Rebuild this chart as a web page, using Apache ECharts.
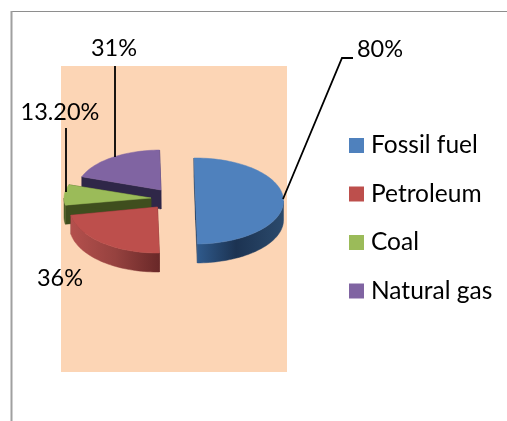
<!DOCTYPE html>
<html><head><meta charset="utf-8">
<style>html,body{margin:0;padding:0;background:#fff}#c{width:507px;height:421px}</style>
<script src="https://cdn.jsdelivr.net/npm/echarts@6/dist/echarts.min.js"></script>
</head><body><div id="c"></div>
<script>
const categories = ['Fossil fuel', 'Petroleum', 'Coal', 'Natural gas'];
const values = [80, 36, 13.2, 31];
const valueLabels = ['80%', '36%', '13.20%', '31%'];
const colors = ['#4f81bd', '#bd4f4c', '#9bbb59', '#8064a2'];

const FONT = '23.5px Lato, Carlito, sans-serif';
const DEPTH = 19, START = -1;
const geometry = [
  {cx:195.5, cy:201, rx:88, ry:43, face:'#1f3a5c',
   wall:['#2f5a8c','#1c3352','#2b4a6c'], label:[380,49], leader:[[283,199],[342,58],[353,58]]},
  {cx:157.5, cy:207, rx:88, ry:46, face:'#6b2a2a',
   wall:['#b4504d','#96423f','#692828'], label:[60,278], leader:null},
  {cx:151, cy:198, rx:87, ry:40, face:'#3f4e1e',
   wall:['#4a5c24','#4a5c24','#4a5c24'], label:[60,112], leader:[[66,128],[66,192]]},
  {cx:161, cy:190, rx:84, ry:40, face:'#2f2748',
   wall:['#2f2748','#2f2748','#2f2748'], label:[114,48], leader:[[115,66],[115,157]]}
];
const drawOrder = [3, 2, 0, 1];
const total = values.reduce((a, b) => a + b, 0);

function angles(i) {
  let a = START;
  for (let k = 0; k < i; k++) a += values[k] / total * 360;
  return [a, a + values[i] / total * 360];
}
function pt(g, deg, dy) {
  const t = deg * Math.PI / 180;
  return [g.cx + g.rx * Math.sin(t), g.cy - g.ry * Math.cos(t) + (dy || 0)];
}
function arc(g, a0, a1, dy) {
  const n = Math.max(2, Math.ceil(Math.abs(a1 - a0) / 2)), out = [];
  for (let k = 0; k <= n; k++) out.push(pt(g, a0 + (a1 - a0) * k / n, dy));
  return out;
}
function poly(points, fill, extra) {
  return Object.assign({type:'polygon', shape:{points}, style:{fill, stroke:fill, lineWidth:0.5}}, extra || {});
}
function makeRender(i) {
  return function () {
    const g = geometry[i], [a0, a1] = angles(i), kids = [];
    const c = [g.cx, g.cy], cd = [g.cx, g.cy + DEPTH];
    [a0, a1].forEach(a => {
      const p = pt(g, a), pd = pt(g, a, DEPTH);
      kids.push(poly([c, p, pd, cd], g.face));
    });
    const w0 = Math.max(a0, 90), w1 = Math.min(a1, 270);
    if (w1 > w0) {
      const top = arc(g, w0, w1, 0), bot = arc(g, w1, w0, DEPTH);
      kids.push(poly(top.concat(bot), new echarts.graphic.LinearGradient(0, 0, 1, 0,
        i === 0
          ? [{offset:0,color:g.wall[0]},{offset:.45,color:g.wall[1]},{offset:1,color:g.wall[2]}]
          : [{offset:0,color:g.wall[0]},{offset:.5,color:g.wall[1]},{offset:1,color:g.wall[2]}])));
    }
    kids.push(poly([c].concat(arc(g, a0, a1, 0)), colors[i]));
    if (g.leader) kids.push({type:'polyline', shape:{points:g.leader}, style:{stroke:'#000', lineWidth:1.8, fill:null}, z2:20});
    kids.push({type:'text', z2:30, style:{text:valueLabels[i], x:g.label[0], y:g.label[1], fill:'#000', font:FONT, align:'center', verticalAlign:'middle'}});
    return {type:'group', children:kids};
  };
}

const chart = echarts.init(document.getElementById('c'), null, {renderer:'canvas'});
chart.setOption({
  animation:false,
  backgroundColor:'#fff',
  graphic:[
    {type:'rect', z:0, shape:{x:61,y:66,width:226,height:306}, style:{fill:'#fcd5b5'}, silent:true},
    {type:'line', z:0, shape:{x1:11,y1:11.5,x2:507,y2:11.5}, style:{stroke:'#8e8e8e',lineWidth:1}, silent:true},
    {type:'line', z:0, shape:{x1:11.5,y1:11,x2:11.5,y2:421}, style:{stroke:'#a0a0a0',lineWidth:2}, silent:true}
  ],
  legend:{
    orient:'vertical', left:349, top:130.5, padding:0, itemWidth:15, itemHeight:15, itemGap:18.5,
    icon:'rect', data:categories, selectedMode:false,
    textStyle:{fontFamily:'Lato, Carlito, sans-serif', fontSize:24.5, color:'#000', padding:[3,0,0,2], lineHeight:27}
  },
  series: drawOrder.map((i, k) => ({
    type:'custom', name:categories[i], coordinateSystem:'none', clip:false, silent:true,
    z:2+k, itemStyle:{color:colors[i]}, color:colors[i],
    renderItem:makeRender(i), data:[[values[i]]]
  }))
});
</script></body></html>
